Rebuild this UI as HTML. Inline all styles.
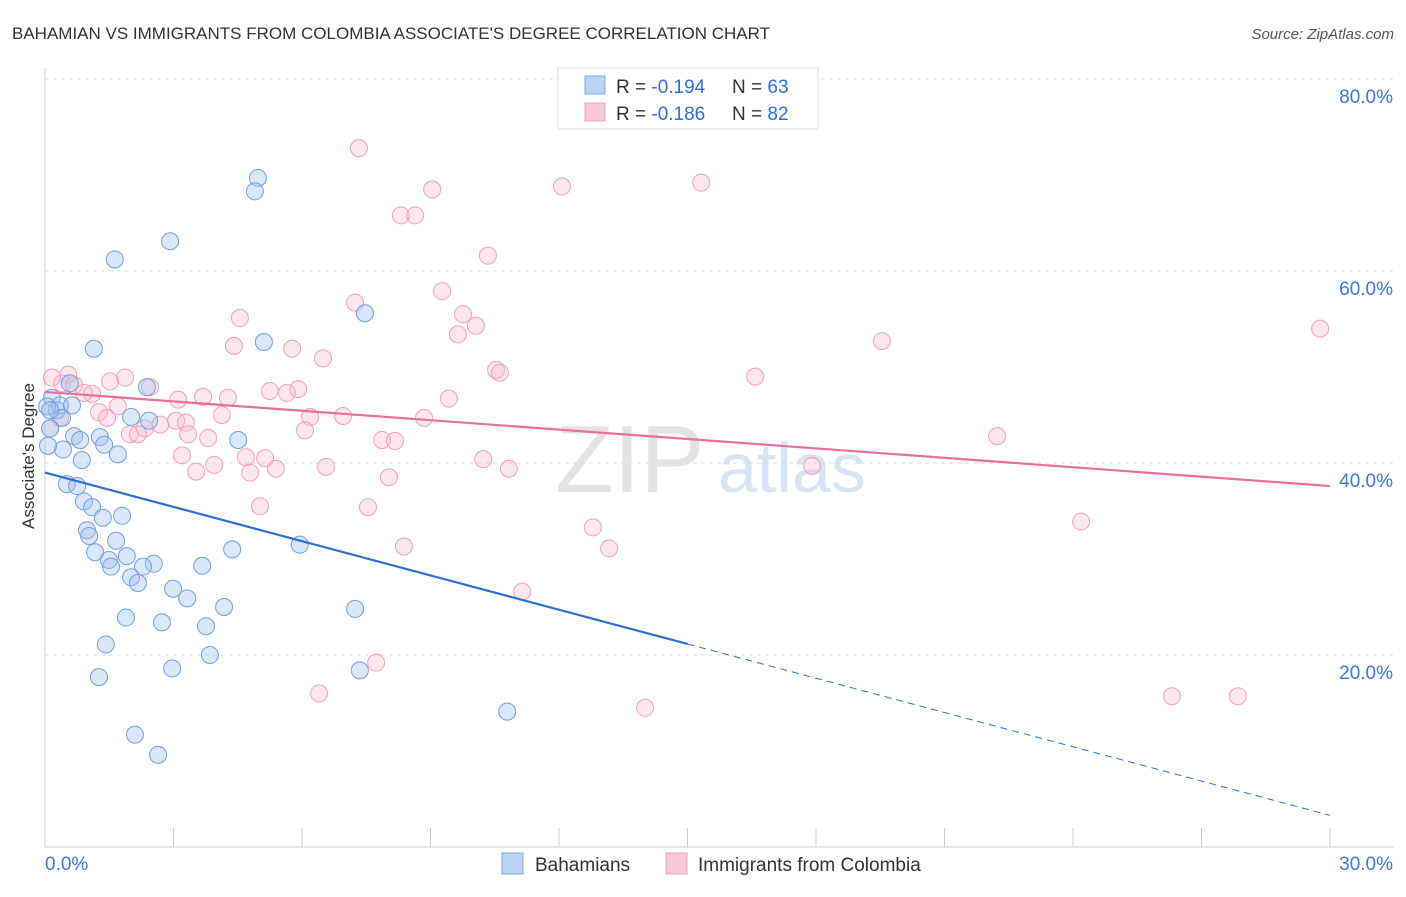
<!DOCTYPE html>
<html><head><meta charset="utf-8"><style>
body{margin:0;background:#fff;font-family:"Liberation Sans",sans-serif;}
svg text{font-family:"Liberation Sans",sans-serif;}
</style></head><body>
<svg id="chart" width="1406" height="892" viewBox="0 0 1406 892" xmlns="http://www.w3.org/2000/svg">
<text x="12" y="39" font-size="17" fill="#333">BAHAMIAN VS IMMIGRANTS FROM COLOMBIA ASSOCIATE'S DEGREE CORRELATION CHART</text>
<text x="1394" y="39" font-size="15" fill="#555" text-anchor="end" font-style="italic">Source: ZipAtlas.com</text>
<g id="grid"></g>
<g id="axes"></g>
<text x="555" y="492" font-size="96" fill="#ddd" font-family="Liberation Serif" opacity="0.8">ZIP</text>
<text x="718" y="492" font-size="70" fill="#c8d8ee" opacity="0.7">atlas</text>
<g id="pts"></g>
<g id="trend"></g>
<text transform="translate(34,456) rotate(-90)" font-size="17" fill="#333" text-anchor="middle">Associate's Degree</text>
<g>
<rect x="558" y="68" width="260" height="61" fill="#fff" stroke="#ddd"/>
<rect x="585" y="76" width="20" height="18" fill="#b8d4f6" stroke="#7aaae6"/>
<text x="616" y="93" font-size="19" fill="#333">R = <tspan fill="#2d6fd6">-0.194</tspan></text>
<text x="732" y="93" font-size="19" fill="#333">N = <tspan fill="#2d6fd6">63</tspan></text>
<rect x="585" y="103" width="20" height="18" fill="#f9c8d6" stroke="#f0a0b8"/>
<text x="616" y="120" font-size="19" fill="#333">R = <tspan fill="#2d6fd6">-0.186</tspan></text>
<text x="732" y="120" font-size="19" fill="#333">N = <tspan fill="#2d6fd6">82</tspan></text>
</g>
<g>
<rect x="502" y="853" width="21" height="21" fill="#b8d4f6" stroke="#7aaae6"/>
<text x="535" y="871" font-size="19" fill="#333">Bahamians</text>
<rect x="666" y="853" width="21" height="21" fill="#f9c8d6" stroke="#f0a0b8"/>
<text x="698" y="871" font-size="19" fill="#333">Immigrants from Colombia</text>
</g>
</svg>
<script>
const yTicks=[20,40,60,80];
const xTickLabels=["0.0%","30.0%"];
const blueX=[4.97,4.90,2.92,1.63,7.47,5.11,1.14,2.38,0.58,0.16,0.28,0.35,0.63,0.40,0.05,0.12,0.68,0.82,1.28,1.38,1.70,0.42,0.86,2.01,2.43,4.51,0.51,0.75,0.91,1.10,1.35,1.80,0.98,1.03,1.66,1.17,1.91,2.54,1.49,1.54,2.29,4.37,5.95,3.67,2.01,2.17,2.99,3.32,4.18,7.24,1.89,2.73,3.76,1.42,3.85,2.97,7.35,1.26,10.79,2.10,2.64,0.07,0.12];
const blueY=[69.7,68.3,63.1,61.2,55.6,52.6,51.9,47.9,48.3,46.8,45.5,46.0,46.0,44.7,45.9,43.6,42.8,42.4,42.7,41.9,40.9,41.4,40.3,44.8,44.4,42.4,37.8,37.6,36.0,35.4,34.3,34.5,33.0,32.4,31.9,30.7,30.3,29.5,29.9,29.2,29.2,31.0,31.5,29.3,28.1,27.5,26.9,25.9,25.0,24.8,23.9,23.4,23.0,21.1,20.0,18.6,18.4,17.7,14.1,11.7,9.6,41.8,45.5];
const pinkX=[7.33,12.07,9.04,15.32,8.31,8.64,10.34,9.27,7.24,9.76,10.06,4.55,9.64,29.77,19.54,4.41,5.77,6.49,0.54,0.40,10.53,10.62,16.58,1.87,1.52,2.45,0.68,0.91,1.10,5.25,5.91,5.65,3.11,3.69,4.27,9.43,1.70,1.26,1.45,0.35,4.13,6.19,6.96,3.06,3.29,2.69,2.33,1.98,2.17,6.07,8.85,3.34,3.81,0.12,7.87,8.17,22.23,4.69,5.14,3.20,3.95,3.53,4.79,5.39,6.56,10.23,10.83,17.91,8.03,5.02,7.54,24.19,12.79,13.17,8.38,11.14,7.73,6.40,14.01,26.31,27.85,0.16];
const pinkY=[72.8,68.8,68.5,69.2,65.8,65.8,61.6,57.9,56.7,55.5,54.3,55.1,53.4,54.0,52.7,52.2,51.9,50.9,49.2,48.3,49.7,49.4,49.0,48.9,48.5,47.9,48.1,47.3,47.2,47.5,47.7,47.3,46.6,46.9,46.8,46.7,45.9,45.3,44.7,44.7,45.0,44.8,44.9,44.4,44.2,44.0,43.6,43.0,43.0,43.4,44.7,43.0,42.6,43.6,42.4,42.3,42.8,40.6,40.5,40.8,39.8,39.1,39.0,39.4,39.6,40.4,39.4,39.7,38.5,35.5,35.4,33.9,33.3,31.1,31.3,26.6,19.2,16.0,14.5,15.7,15.7,48.9];
const blueTrend=[39.0,3.3];
const pinkTrend=[47.4,37.6];
const blueSolidEnd=15;
const NS="http://www.w3.org/2000/svg";
const X=v=>45+v*(1330-45)/30;
const Y=v=>847-v*9.6;
function mk(t,a,p){const e=document.createElementNS(NS,t);for(const k in a)e.setAttribute(k,a[k]);p.appendChild(e);return e;}
const grid=document.getElementById('grid'),axes=document.getElementById('axes');
yTicks.forEach(t=>{
 const l=mk('line',{x1:45,x2:1394,y1:Y(t),y2:Y(t),stroke:'#ddd','stroke-dasharray':'4,4'},grid);
 
 
 const tx=mk('text',{x:1393,y:Y(t)+24,'font-size':19,fill:'#3b78d8','text-anchor':'end'},axes);
 tx.textContent=t.toFixed(1)+'%';
 
 
});
mk('line',{x1:45,x2:45,y1:68,y2:847,stroke:'#ccc'},axes);
mk('line',{x1:45,x2:1394,y1:847,y2:847,stroke:'#ccc'},axes);
for(let i=1;i<=10;i++){const l=mk('line',{x1:X(i*3),x2:X(i*3),y1:828,y2:847,stroke:'#ccc'},axes);
 
 }
const xl0=mk('text',{x:45,y:870,'font-size':19,fill:'#3b78d8'},axes);xl0.textContent=xTickLabels[0];


const xl1=mk('text',{x:1393,y:870,'font-size':19,fill:'#3b78d8','text-anchor':'end'},axes);xl1.textContent=xTickLabels[1];


const pts=document.getElementById('pts');
pinkX.forEach((v,i)=>{const c=mk('circle',{cx:X(v),cy:Y(pinkY[i]),r:8.5,fill:'rgba(248,182,202,0.35)',stroke:'#f0a0b8','stroke-width':1},pts);
 
 });
blueX.forEach((v,i)=>{const c=mk('circle',{cx:X(v),cy:Y(blueY[i]),r:8.5,fill:'rgba(160,196,240,0.4)',stroke:'#6fa0e0','stroke-width':1},pts);
 
 });
const tr=document.getElementById('trend');
const by=x=>blueTrend[0]+(blueTrend[1]-blueTrend[0])*x/30;
const b1=mk('line',{x1:X(0),y1:Y(by(0)),x2:X(blueSolidEnd),y2:Y(by(blueSolidEnd)),stroke:'#2d6fd6','stroke-width':2.2},tr);


const b2=mk('line',{x1:X(blueSolidEnd),y1:Y(by(blueSolidEnd)),x2:X(30),y2:Y(by(30)),stroke:'#2d6fd6','stroke-width':1,'stroke-dasharray':'7,5'},tr);


const p1=mk('line',{x1:X(0),y1:Y(pinkTrend[0]),x2:X(30),y2:Y(pinkTrend[1]),stroke:'#e8709a','stroke-width':2.2},tr);


</script>
</body></html>
